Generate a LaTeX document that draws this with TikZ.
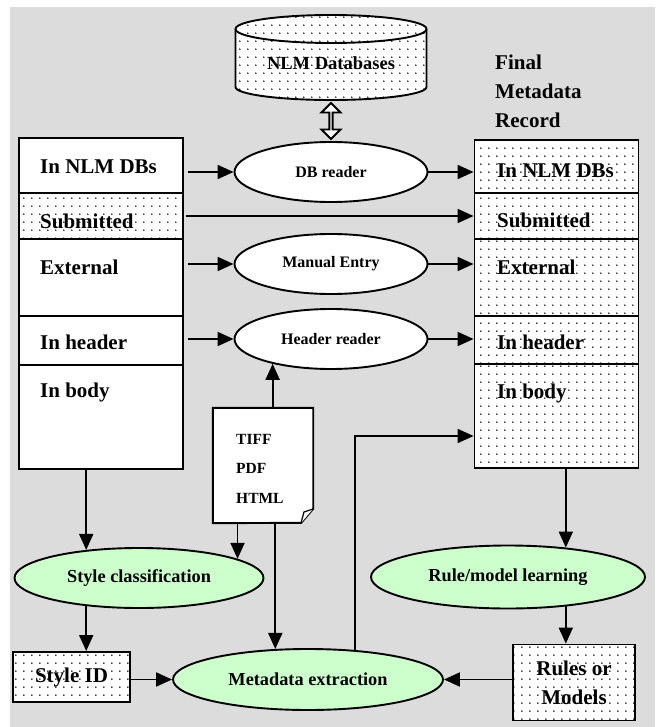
\documentclass[tikz,border=0pt]{standalone}
\usepackage{fontspec}
\setmainfont{Liberation Serif}
\usetikzlibrary{arrows.meta}
\usetikzlibrary{calc}
\usetikzlibrary{shapes.geometric,shapes.arrows}
\usetikzlibrary{patterns.meta}
\definecolor{bggray}{RGB}{220,220,220}
\definecolor{lgreen}{RGB}{204,255,204}
\newcommand{\fsz}[2][0]{\fontsize{#2}{#1}\selectfont\bfseries}
\tikzdeclarepattern{
  name=sparsedots,
  type=colored,
  bottom left={(-2pt,-2pt)},
  top right={(6.3pt,6.3pt)},
  tile size={(8.3pt,8.3pt)},
  code={\fill [black] (0pt,0pt) circle [radius=0.85pt];}
}

\begin{document}
\begin{tikzpicture}[x=1pt,y=-1pt,
    arrow/.style={-{Triangle[length=16pt,width=14pt]}, line width=1.9pt},
    dotfill/.style={preaction={fill=white}, pattern=sparsedots},
    field/.style={draw, line width=1.9pt, fill=white, minimum width=164pt, inner sep=0},
    dfield/.style={field, dotfill},
    lab/.style={anchor=west, inner sep=0, font=\fsz{21}},
    proc/.style={ellipse, draw, line width=1.9pt, fill=white, inner sep=0,
        minimum width=193pt, minimum height=60pt, font=\fsz{16}},
    learn/.style={ellipse, draw, line width=1.9pt, fill=lgreen, inner sep=0, font=\fsz{18.3}}]

\useasboundingbox (0,0) rectangle (655,727);
\fill [bggray] (10,7) rectangle (655,727);

% database on top
\draw [dotfill, line width=1.9pt] (235.5,29) -- (235.5,87)
    arc [start angle=180, end angle=360, x radius=95.5pt, y radius=13pt]
    -- (426.5,29) arc [start angle=0, end angle=180, x radius=95.5pt, y radius=14pt] -- cycle;
\draw [line width=1.9pt] (235.5,29) arc [start angle=180, end angle=360, x radius=95.5pt, y radius=14pt];
\node [font=\fsz{18.5}, inner sep=0] (nlmdb) at (331,63) {NLM Databases};
\coordinate (dbbot) at (331,101);

% source fields
\node [field, minimum height=55pt] (lnlm) at (101,165.5) {};
\node [dfield, minimum height=46pt] (lsub) at (101,216) {};
\node [field, minimum height=77pt] (lext) at (101,277.5) {};
\node [field, minimum height=49pt] (lhead) at (101,340.5) {};
\node [field, minimum height=104pt] (lbody) at (101,417) {};
\node [lab] (lnlm-t) at (40,167) {In NLM DBs};
\node [lab] (lsub-t) at (40,221) {Submitted};
\node [lab] (lext-t) at (40,267) {External};
\node [lab] (lhead-t) at (40,342) {In header};
\node [lab] (lbody-t) at (40,392) {In body};

% final record
\node [font={\fsz[29]{21}}, align=left, anchor=west, inner sep=0] (final) at (495,91)
    {Final\\Metadata\\Record};
\node [dfield, minimum height=53pt] (rnlm) at (556.5,166.5) {};
\node [dfield, minimum height=46pt] (rsub) at (556.5,216) {};
\node [dfield, minimum height=77pt] (rext) at (556.5,277.5) {};
\node [dfield, minimum height=48pt] (rhead) at (556.5,340) {};
\node [dfield, minimum height=104pt] (rbody) at (556.5,416) {};
\node [lab] (rnlm-t) at (497,171) {In NLM DBs};
\node [lab] (rsub-t) at (497,220) {Submitted};
\node [lab] (rext-t) at (497,267) {External};
\node [lab] (rhead-t) at (497,342) {In header};
\node [lab] (rbody-t) at (497,393) {In body};

% readers
\node [proc] (dbr) at (331,172) {DB reader};
\node [proc] (man) at (331,264) {Manual Entry};
\node [proc] (hdr) at (331,339) {Header reader};
\node [double arrow, draw, line width=1.9pt, fill=white, rotate=90, inner sep=0,
    minimum height=36pt, minimum width=19pt, double arrow head extend=4.5pt] (link)
    at ($(dbbot)!0.5!(dbr.north)$) {};

% document
\node [minimum width=100pt, minimum height=115pt, inner sep=0] (doc) at (263,465.5) {};
\draw [line width=1.9pt, fill=white] (doc.north west) -- (doc.north east) -- ++(0,101)
    -- ++(-12,14) -- (doc.south west) -- cycle;
\draw [line width=1.2pt, fill=white] (301,523) -- (304,512) .. controls (307,511) .. (313,509);
\node [font=\fsz{15.5}, inner sep=0, anchor=west] (tiff) at (236,439) {TIFF};
\node [font=\fsz{15.5}, inner sep=0, anchor=west] (pdf) at (236,468) {PDF};
\node [font=\fsz{15.5}, inner sep=0, anchor=west] (html) at (236,498) {HTML};

% learning part
\node [learn, minimum width=249pt, minimum height=60pt] (stycl) at (139,578) {Style classification};
\node [learn, minimum width=274pt, minimum height=63pt] (rml) at (508,577) {Rule/model learning};
\node [learn, minimum width=270pt, minimum height=61pt] (met) at (308,679.5) {Metadata extraction};
\node [dfield, minimum width=117pt, minimum height=50pt, font=\fsz{21}] (styid) at (71.5,677) {Style ID};
\node [dfield, minimum width=122pt, minimum height=76pt, align=center, font={\fsz[29]{21}}] (rules)
    at (574,682.5) {Rules or\\Models};

% connectors
\draw [arrow] ([xshift=4pt]lnlm.east |- dbr) -- (dbr.west);
\draw [arrow] (dbr.east) -- (dbr.east -| rnlm.west);
\draw [arrow] ([xshift=2pt]lsub.east) -- (rsub.west);
\draw [arrow] ([xshift=4pt]lext.east |- man) -- (man.west);
\draw [arrow] (man.east) -- (man.east -| rext.west);
\draw [arrow] ([xshift=4pt]lhead.east |- hdr) -- (hdr.west);
\draw [arrow] (hdr.east) -- (hdr.east -| rhead.west);
\draw [arrow] (hdr.203 |- doc.north) -- (hdr.203);
\draw [arrow] (stycl.152 |- lbody.south) -- (stycl.152);
\draw [arrow] (stycl.11 |- doc.south) -- (stycl.11);
\draw [arrow] (met.137 |- doc.south) -- (met.137);
\draw [arrow] (stycl.208) -- (stycl.208 |- styid.north);
\draw [arrow] (styid.east |- met) -- (met.west);
\draw [arrow] (rules.west |- met) -- (met.east);
\draw [arrow] (rml.27 |- rbody.south) -- (rml.27);
\draw [arrow] (rml.333) -- (rml.333 |- rules.north);
\draw [arrow] (met.32) |- ([yshift=-20pt]rbody.west);
\end{tikzpicture}
\end{document}
